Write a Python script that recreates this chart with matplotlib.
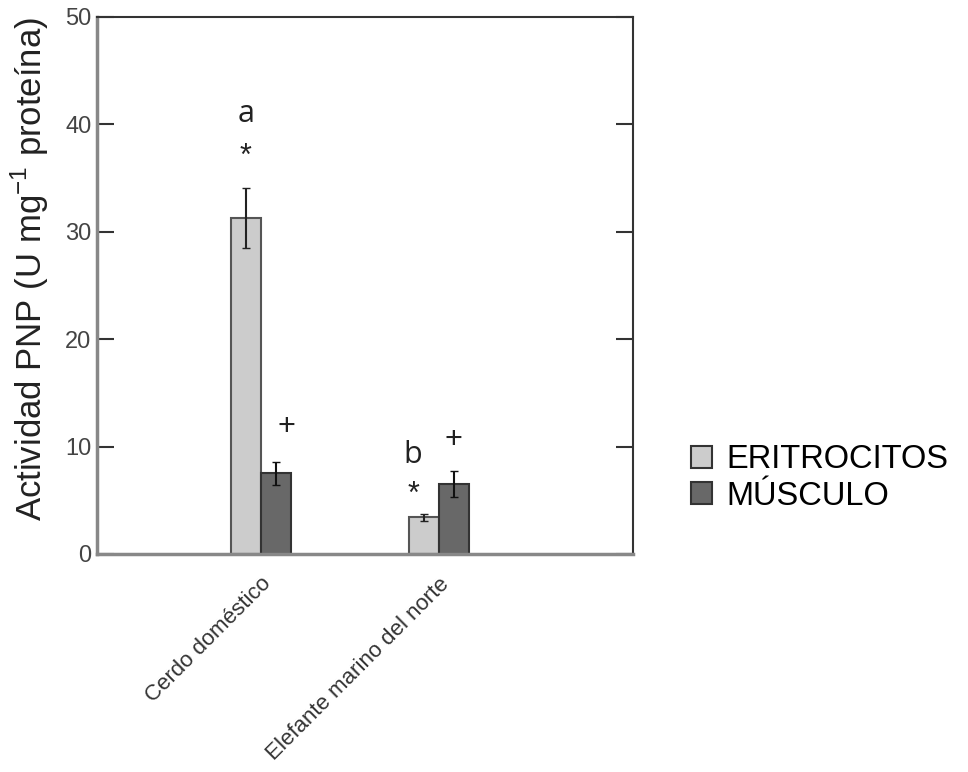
import numpy as np
import matplotlib.pyplot as plt
from matplotlib.patches import Patch

especies = ["Cerdo doméstico", "Elefante marino del norte"]
eritrocitos = [31.3, 3.4]
eritrocitos_err = [2.8, 0.3]
musculo = [7.5, 6.5]
musculo_err = [1.1, 1.2]
letras = ["a", "b"]
series = ["ERITROCITOS", "MÚSCULO"]

plt.rcParams["font.family"] = ["Liberation Sans", "DejaVu Sans"]

fig = plt.figure(figsize=(9.68, 7.72), dpi=100)
ax = fig.add_axes([0.1002, 0.2824, 0.5537, 0.6956])

x = np.arange(len(especies))
w = 0.168
c_eri = "#cccccc"
c_mus = "#686868"

ax.bar(x - w / 2, eritrocitos, w, yerr=eritrocitos_err, color=c_eri,
       edgecolor="#555555", linewidth=1.5, error_kw=dict(ecolor="#222222", elinewidth=1.5, capsize=3))
ax.bar(x + w / 2, musculo, w, yerr=musculo_err, color=c_mus,
       edgecolor="#333333", linewidth=1.5, error_kw=dict(ecolor="#111111", elinewidth=1.5, capsize=3))

# anotaciones de significancia
for i in range(len(especies)):
    top_e = eritrocitos[i] + eritrocitos_err[i]
    dy_ast = [2.9, 1.8][i]
    dy_let = [6.9, 5.5][i]
    ax.text(x[i] - w / 2 - 0.06 * i, top_e + dy_ast, "*", ha="center", va="center", fontsize=22, color="#222222")
    ax.text(x[i] - w / 2 - 0.06 * i, top_e + dy_let, letras[i], ha="center", va="center", fontsize=22,
            color="#222222", family=["Open Sans", "DejaVu Sans"])
    top_m = musculo[i] + musculo_err[i]
    dy_mas = [3.2, 2.9][i]
    ax.text(x[i] + w / 2 + 0.06 * (1 - i), top_m + dy_mas, "+", ha="center", va="center",
            fontsize=22, color="#222222")

ax.set_xlim(-0.92, 2.09)
ax.set_ylim(0, 50)
ax.set_yticks([0, 10, 20, 30, 40, 50])
ax.tick_params(axis="y", direction="in", length=12, width=1.5, colors="#333333",
               labelsize=17, right=True, pad=4)
ax.tick_params(axis="y", labelcolor="#444444")
ax.set_xticks(x)
ax.set_xticklabels(especies, rotation=45, ha="right", rotation_mode="anchor",
                   fontsize=16, color="#333333")
ax.tick_params(axis="x", length=0, pad=14)

ax.set_ylabel("Actividad PNP (U mg$^{\\mathregular{-1}}$ proteína)", fontsize=25, color="#222222")
ax.yaxis.set_label_coords(-0.085, 0.53)

for s in ["left", "bottom"]:
    ax.spines[s].set_color("#888888")
    ax.spines[s].set_linewidth(2.5)
for s in ["top", "right"]:
    ax.spines[s].set_color("#333333")
    ax.spines[s].set_linewidth(1.5)

handles = [Patch(facecolor=c_eri, edgecolor="#333333", linewidth=1.5),
           Patch(facecolor=c_mus, edgecolor="#333333", linewidth=1.5)]
fig.legend(handles, series, loc="center left", bbox_to_anchor=(0.683, 0.381), frameon=False,
           fontsize=23.5, handlelength=0.65, handleheight=0.65, handletextpad=0.45, labelspacing=0.17)

fig.savefig("out.png", dpi=100)
